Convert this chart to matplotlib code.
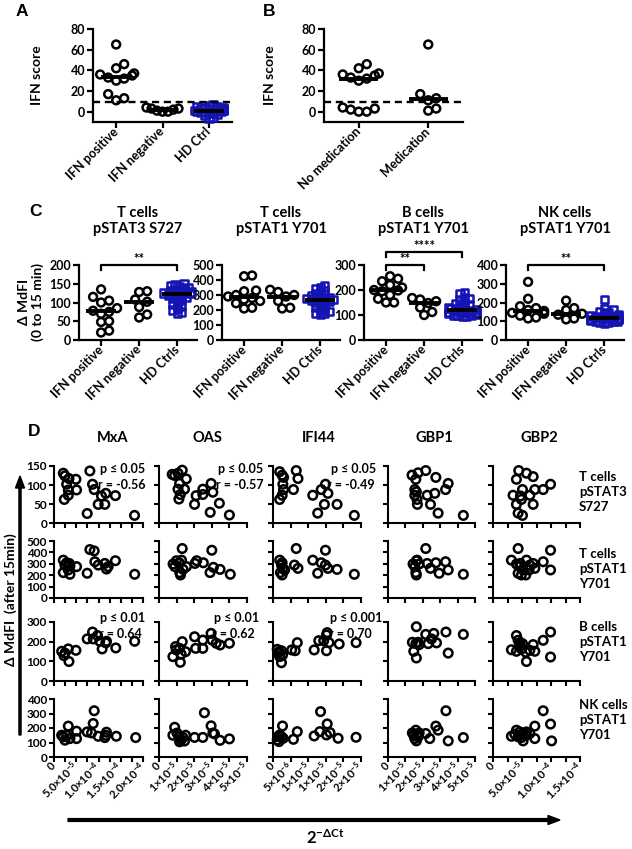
import numpy as np
import matplotlib
matplotlib.use("Agg")
import matplotlib.pyplot as plt

plt.rcParams['font.family'] = ['Lato', 'DejaVu Sans']
plt.rcParams['font.weight'] = 'bold'
plt.rcParams['axes.labelweight'] = 'bold'
plt.rcParams['mathtext.fontset'] = 'custom'
plt.rcParams['mathtext.rm'] = 'Lato:bold'
plt.rcParams['mathtext.it'] = 'Lato:bold'
plt.rcParams['mathtext.bf'] = 'Lato:bold'
plt.rcParams['mathtext.sf'] = 'Lato:bold'

# ---------------- data ----------------
# Panel A
a_categories = ["IFN positive", "IFN negative", "HD Ctrl"]
a_ifn_positive = [65, 46, 42, 37, 36, 35, 33, 32, 30, 17, 13, 11]
a_ifn_negative = [4, 3, 3, 2, 1, 0, 0]
a_hd_ctrl = [7, 6, 5, 5, 4, 4, 3, 3, 3, 2, 2, 2, 1, 1, 1, 1, 0, 0, 0, -1, -1, -2, -3, -4, -5, -6]
ifn_threshold = 9.5
# Panel B
b_categories = ["No medication", "Medication"]
b_no_med = [46, 42, 37, 36, 35, 33, 32, 30, 4, 3, 2, 0, 0]
b_med = [65, 17, 13, 11, 3, 1]

# Panel C
c_titles = ["T cells\npSTAT3 S727", "T cells\npSTAT1 Y701", "B cells\npSTAT1 Y701", "NK cells\npSTAT1 Y701"]
c_groups = ["IFN positive", "IFN negative", "HD Ctrls"]
c_t3_pos = [135, 115, 105, 100, 85, 78, 75, 70, 50, 48, 25, 20]
c_t3_neg = [130, 128, 108, 102, 88, 68, 60]
c_t3_hd = [150, 148, 145, 142, 140, 138, 135, 132, 130, 128, 127, 125, 125, 123, 120, 118,
           115, 112, 110, 105, 100, 95, 90, 85, 80, 75, 72]
c_t1_pos = [430, 425, 330, 325, 300, 290, 280, 270, 260, 245, 215, 210]
c_t1_neg = [335, 320, 300, 290, 260, 215, 210]
c_t1_hd = [360, 350, 340, 330, 320, 310, 300, 295, 290, 285, 280, 275, 270, 268, 265, 260,
           255, 250, 240, 230, 220, 210, 200, 190, 180, 175, 170]
c_b1_pos = [255, 245, 235, 220, 210, 200, 198, 195, 180, 165, 150, 150]
c_b1_neg = [168, 162, 155, 148, 130, 112, 100]
c_b1_hd = [190, 185, 170, 165, 160, 150, 145, 140, 135, 130, 128, 125, 122, 120, 118, 115,
           112, 110, 108, 105, 102, 100, 98, 95, 95, 100, 110]
c_nk_pos = [310, 220, 180, 170, 160, 155, 150, 145, 140, 130, 120, 115]
c_nk_neg = [210, 170, 160, 140, 135, 110, 115]
c_nk_hd = [215, 165, 160, 150, 145, 140, 135, 130, 128, 125, 122, 120, 118, 117, 115, 112,
           110, 108, 105, 102, 100, 98, 95, 92, 90]
c_yticks = [[0, 50, 100, 150, 200], [0, 100, 200, 300, 400, 500], [0, 100, 200, 300], [0, 100, 200, 300, 400]]

# Panel D  (x values in units of 1e-5)
d_genes = ["MxA", "OAS", "IFI44", "GBP1", "GBP2"]
d_rows = ["T cells\npSTAT3\nS727", "T cells\npSTAT1\nY701", "B cells\npSTAT1\nY701", "NK cells\npSTAT1\nY701"]
d_yticks = [[0, 50, 100, 150], [0, 100, 200, 300, 400, 500], [0, 100, 200, 300], [0, 100, 200, 300, 400]]

mxa_r1_x = [2.09, 2.46, 3.36, 4.93, 2.84, 3.21, 5.07, 3.21, 2.31, 8.06, 8.66, 9.03, 7.46, 9.93, 10.67, 11.64, 11.42, 13.8, 18.1]
mxa_r1_y = [131, 124, 117, 115, 102, 87, 87, 73, 62, 137, 102, 88, 25, 49, 71, 78, 49, 72, 20]
mxa_r2_x = [2.09, 2.84, 3.43, 2.46, 3.58, 5.07, 2.09, 3.58, 3.21, 7.46, 8.06, 9.03, 9.18, 9.93, 11.42, 11.79, 12.16, 13.8, 18.13]
mxa_r2_y = [332, 309, 303, 289, 280, 275, 223, 208, 246, 217, 425, 413, 318, 289, 303, 254, 275, 327, 208]
mxa_r3_x = [1.72, 2.46, 3.21, 2.24, 3.36, 4.93, 7.46, 8.66, 8.81, 9.78, 10.30, 11.79, 11.64, 10.82, 13.88, 18.13]
mxa_r3_y = [151, 142, 163, 129, 99, 156, 214, 249, 214, 231, 202, 202, 194, 163, 168, 202]
mxa_r4_x = [1.72, 2.46, 2.09, 3.21, 2.84, 3.58, 5.07, 5.07, 7.46, 8.43, 8.81, 9.03, 9.93, 11.42, 11.79, 11.64, 14.0, 18.36]
mxa_r4_y = [150, 116, 139, 213, 150, 127, 178, 127, 173, 166, 231, 319, 143, 134, 171, 150, 143, 134]

oas_r1_x = [0.75, 0.89, 1.08, 1.32, 1.55, 1.17, 1.08, 1.45, 1.21, 1.13, 2.02, 2.11, 2.49, 2.49, 2.96, 3.06, 2.91, 3.43, 4.0]
oas_r1_y = [128, 125, 131, 139, 116, 104, 89, 89, 75, 63, 49, 72, 89, 75, 104, 81, 28, 52, 21]
oas_r2_x = [0.80, 0.99, 1.15, 1.28, 0.90, 1.18, 1.22, 1.37, 1.56, 1.32, 2.04, 2.14, 2.52, 3.0, 2.90, 3.09, 3.47, 4.05]
oas_r2_y = [298, 327, 309, 332, 275, 223, 202, 251, 275, 434, 303, 327, 309, 419, 223, 269, 251, 208]
oas_r3_x = [0.79, 0.98, 0.94, 1.17, 1.32, 1.26, 1.21, 1.51, 2.02, 2.08, 2.49, 2.49, 2.96, 3.02, 3.47, 4.0, 3.25]
oas_r3_y = [124, 158, 175, 166, 200, 136, 95, 149, 225, 166, 166, 208, 242, 208, 183, 192, 192]
oas_r4_x = [0.89, 0.79, 1.02, 1.13, 1.26, 1.17, 1.36, 1.51, 1.45, 2.02, 2.49, 2.58, 2.96, 3.06, 3.15, 3.47, 4.0]
oas_r4_y = [205, 150, 165, 140, 118, 105, 135, 150, 110, 135, 135, 305, 215, 165, 160, 115, 125]

ifi_r1_x = [0.19, 0.26, 0.30, 0.28, 0.30, 0.26, 0.19, 0.66, 0.71, 0.58, 1.13, 1.37, 1.49, 1.56, 1.46, 1.27, 1.82, 2.31]
ifi_r1_y = [135, 126, 120, 102, 88, 73, 62, 138, 117, 88, 73, 88, 102, 78, 49, 26, 49, 20]
ifi_r2_x = [0.19, 0.26, 0.24, 0.28, 0.21, 0.26, 0.33, 0.61, 0.71, 0.66, 1.13, 1.37, 1.49, 1.56, 1.27, 1.49, 1.82, 2.31]
ifi_r2_y = [332, 309, 289, 260, 223, 202, 246, 289, 260, 434, 332, 309, 289, 260, 217, 419, 251, 208]
ifi_r3_x = [0.12, 0.17, 0.24, 0.14, 0.19, 0.27, 0.24, 0.53, 0.63, 0.69, 1.17, 1.30, 1.44, 1.52, 1.54, 1.59, 1.52, 1.88, 2.36]
ifi_r3_y = [161, 149, 154, 141, 124, 132, 93, 158, 154, 195, 158, 205, 205, 234, 246, 195, 154, 188, 195]
ifi_r4_x = [0.12, 0.19, 0.27, 0.17, 0.24, 0.29, 0.58, 0.69, 1.17, 1.33, 1.35, 1.52, 1.54, 1.62, 1.85, 2.36, 0.14]
ifi_r4_y = [117, 152, 214, 106, 140, 129, 122, 175, 145, 175, 313, 152, 228, 168, 129, 136, 140]

gbp1_r1_x = [1.38, 1.73, 2.17, 1.60, 2.75, 3.46, 3.31, 1.54, 1.63, 1.54, 1.67, 1.69, 2.25, 2.69, 2.44, 2.88, 4.33]
gbp1_r1_y = [126, 132, 138, 115, 120, 104, 88, 88, 82, 73, 62, 49, 73, 78, 49, 26, 20]
gbp1_r2_x = [1.44, 1.63, 1.54, 1.67, 1.60, 1.63, 2.17, 2.25, 2.44, 2.75, 2.94, 3.31, 3.46, 4.33, 1.79]
gbp1_r2_y = [298, 327, 275, 332, 223, 202, 434, 303, 260, 309, 217, 318, 246, 208, 298]
gbp1_r3_x = [1.63, 2.17, 2.63, 3.33, 4.33, 1.40, 1.60, 1.79, 1.48, 1.63, 2.31, 2.79, 2.50, 3.46, 1.73]
gbp1_r3_y = [276, 237, 242, 249, 237, 197, 190, 185, 151, 117, 190, 194, 214, 142, 197]
gbp1_r4_x = [1.40, 1.60, 1.67, 1.54, 1.63, 1.73, 2.17, 2.40, 2.75, 2.88, 3.33, 3.46, 4.33, 1.79, 1.48]
gbp1_r4_y = [166, 185, 150, 127, 111, 139, 162, 127, 213, 185, 319, 111, 134, 166, 150]

gbp2_r1_x = [4.44, 5.77, 6.92, 4.04, 9.92, 8.65, 7.21, 5.08, 3.46, 4.73, 6.35, 4.90, 6.92, 4.04, 4.33, 5.08]
gbp2_r1_y = [138, 131, 122, 115, 102, 88, 88, 88, 73, 71, 73, 62, 49, 49, 26, 20]
gbp2_r2_x = [3.17, 4.33, 4.04, 4.62, 5.19, 4.33, 4.90, 5.65, 5.77, 6.35, 6.92, 7.21, 8.65, 9.92, 9.92, 4.73, 6.23]
gbp2_r2_y = [332, 434, 298, 275, 246, 217, 202, 202, 332, 289, 303, 260, 318, 419, 246, 303, 246]
gbp2_r3_x = [4.04, 4.33, 4.62, 5.08, 3.17, 4.04, 4.90, 5.65, 5.77, 6.35, 6.92, 7.21, 8.65, 9.92, 9.92, 4.62]
gbp2_r3_y = [231, 207, 194, 190, 159, 151, 163, 146, 99, 156, 185, 151, 207, 249, 122, 177]
gbp2_r4_x = [3.17, 4.04, 4.62, 5.08, 5.65, 6.35, 7.21, 5.19, 7.21, 8.65, 9.92, 10.1, 4.33, 5.77, 3.75, 4.90]
gbp2_r4_y = [143, 185, 173, 162, 150, 162, 213, 111, 127, 319, 227, 111, 139, 173, 157, 134]

d_stats = {(0, 0): ("p \u2264 0.05", "r = -0.56"), (0, 1): ("p \u2264 0.05", "r = -0.57"),
           (0, 2): ("p \u2264 0.05", "r = -0.49"), (2, 0): ("p \u2264 0.01", "r = 0.64"),
           (2, 1): ("p \u2264 0.01", "r = 0.62"), (2, 2): ("p \u2264 0.001", "r = 0.70")}

d_xmax = [20, 5, 2.5, 5, 15]
d_xticklabels = [
    ["0", "", "5.0\u00d710$^{-5}$", "", "1.0\u00d710$^{-4}$", "", "1.5\u00d710$^{-4}$", "", "2.0\u00d710$^{-4}$"],
    ["0", "1\u00d710$^{-5}$", "2\u00d710$^{-5}$", "3\u00d710$^{-5}$", "4\u00d710$^{-5}$", "5\u00d710$^{-5}$"],
    ["0", "5\u00d710$^{-6}$", "1\u00d710$^{-5}$", "1\u00d710$^{-5}$", "2\u00d710$^{-5}$", "2\u00d710$^{-5}$"],
    ["0", "1\u00d710$^{-5}$", "2\u00d710$^{-5}$", "3\u00d710$^{-5}$", "4\u00d710$^{-5}$", "5\u00d710$^{-5}$"],
    ["0", "", "5.0\u00d710$^{-5}$", "", "1.0\u00d710$^{-4}$", "", "1.5\u00d710$^{-4}$"],
]
d_xstep = [2.5, 1.0, 0.5, 1.0, 2.5]

# ---------------- figure ----------------
W, H = 632.0, 849.0
fig = plt.figure(figsize=(W / 100, H / 100), dpi=100)
BLUE = "#1414b4"
MEW = 1.8


def add_ax(l, t, r, b):
    return fig.add_axes([l / W, 1 - b / H, (r - l) / W, (b - t) / H])


def ftext(x, y, s, **kw):
    return fig.text(x / W, 1 - y / H, s, **kw)


def style(ax, lw=1.6, tl=4, ls=8):
    for s in ("top", "right"):
        ax.spines[s].set_visible(False)
    for s in ("left", "bottom"):
        ax.spines[s].set_linewidth(lw)
    ax.tick_params(direction="out", length=tl, width=lw, labelsize=ls, pad=1.5)


def swarm(vals, yscale, xscale, d, maxhalf):
    vals = np.asarray(vals, float)
    order = np.argsort(vals)
    placed = []
    offs = np.zeros(len(vals))
    cands = [0.0]
    for k in range(1, 60):
        cands += [k * d * 0.5, -k * d * 0.5]
    for i in order:
        y = vals[i] * yscale
        chosen = cands[-1]
        for c in cands:
            if all((c - px) ** 2 + (y - py) ** 2 >= d * d for px, py in placed):
                chosen = c
                break
        chosen = max(-maxhalf, min(maxhalf, chosen))
        placed.append((chosen, y))
        offs[i] = chosen / xscale
    return offs


def column(ax, xc, vals, yscale, xscale, marker="o", color="black", s=32, d=8.0,
           maxhalf=20, medhalf=0.33, lwmed=2.8):
    offs = swarm(vals, yscale, xscale, d, maxhalf)
    ax.scatter(xc + offs, vals, s=s, marker=marker, facecolors="none", edgecolors=color,
               linewidths=MEW, zorder=3, clip_on=False)
    med = np.median(vals)
    ax.plot([xc - medhalf, xc + medhalf], [med, med], color="black", lw=lwmed,
            zorder=4, solid_capstyle="butt", clip_on=False)


# ----- Panel A -----
axA = add_ax(93, 29, 232, 122)
axA.set_xlim(0.5, 3.5)
axA.set_ylim(-10, 80)
ysA = 93 / 90.0
xsA = 139 / 3.0
column(axA, 1, a_ifn_positive, ysA, xsA, d=8, maxhalf=18)
column(axA, 2, a_ifn_negative, ysA, xsA, d=5.5, maxhalf=16)
column(axA, 3, a_hd_ctrl, ysA, xsA, marker="s", color=BLUE, s=28, d=4.0, maxhalf=14)
axA.axhline(ifn_threshold, color="black", lw=1.7, ls=(0, (3, 2)), zorder=5)
axA.set_yticks([0, 20, 40, 60, 80])
axA.set_xticks([1, 2, 3])
axA.set_xticklabels(a_categories, rotation=45, ha="right", va="center", rotation_mode="anchor")
style(axA, ls=9)
ftext(37, 75, "IFN score", rotation=90, ha="center", va="center", fontsize=10)
ftext(22, 11, "A", fontsize=12.5, ha="center", va="center", family="Liberation Sans")

# ----- Panel B -----
axB = add_ax(324, 29, 463, 122)
axB.set_xlim(0.5, 2.5)
axB.set_ylim(-10, 80)
xsB = 139 / 2.0
column(axB, 1, b_no_med, ysA, xsB, d=8, maxhalf=20, medhalf=0.28)
column(axB, 2, b_med, ysA, xsB, d=8, maxhalf=20, medhalf=0.28)
axB.axhline(ifn_threshold, color="black", lw=1.7, ls=(0, (3, 2)), zorder=5)
axB.set_yticks([0, 20, 40, 60, 80])
axB.set_xticks([1, 2])
axB.set_xticklabels(b_categories, rotation=45, ha="right", va="center", rotation_mode="anchor")
style(axB, ls=9)
ftext(270, 75, "IFN score", rotation=90, ha="center", va="center", fontsize=10)
ftext(269, 11, "B", fontsize=12.5, ha="center", va="center", family="Liberation Sans")

# ----- Panel C -----
c_lefts = [79, 222, 364, 506]
c_data = [(c_t3_pos, c_t3_neg, c_t3_hd), (c_t1_pos, c_t1_neg, c_t1_hd),
          (c_b1_pos, c_b1_neg, c_b1_hd), (c_nk_pos, c_nk_neg, c_nk_hd)]
axC = []
for k, l in enumerate(c_lefts):
    ax = add_ax(l, 265, l + 118, 340)
    ax.set_xlim(0.42, 3.52)
    ymax = c_yticks[k][-1]
    ax.set_ylim(0, ymax)
    ys = 75.0 / ymax
    xs = 118 / 3.1
    pos, neg, hd = c_data[k]
    column(ax, 1, pos, ys, xs, d=8, maxhalf=16, medhalf=0.4)
    column(ax, 2, neg, ys, xs, d=8, maxhalf=16, medhalf=0.4)
    column(ax, 3, hd, ys, xs, marker="s", color=BLUE, s=28, d=4.5, maxhalf=14, medhalf=0.4)
    ax.set_yticks(c_yticks[k])
    ax.set_xticks([1, 2, 3])
    ax.set_xticklabels(c_groups, rotation=45, ha="right", va="center", rotation_mode="anchor",
                       fontsize=8)
    style(ax, ls=9)
    ftext(l + 59, 221, c_titles[k], ha="center", va="center", fontsize=10.5, linespacing=1.25)
    axC.append(ax)


def bracket(ax, x1, x2, y, drop, label):
    ax.plot([x1, x1, x2, x2], [y - drop, y, y, y - drop], color="black", lw=1.6,
            clip_on=False, zorder=5)
    ax.text((x1 + x2) / 2, y, label, ha="center", va="bottom", fontsize=9.5)


bracket(axC[0], 1, 3, 200, 14, "**")
bracket(axC[2], 1, 2, 300, 20, "**")
bracket(axC[2], 1, 3, 352, 20, "****")
bracket(axC[3], 1, 3, 400, 27, "**")
ftext(31, 302, "\u0394 MdFI\n(0 to 15 min)", rotation=90, ha="center", va="center",
      fontsize=10, linespacing=1.05)
ftext(35, 212, "C", fontsize=12.5, ha="center", va="center", family="Liberation Sans")

# ----- Panel D -----
d_lefts = [54, 159, 273, 388, 493]
d_rights = [143, 247, 361, 475, 580]
d_tops = [466, 541, 622, 699]
d_bots = [523, 598, 681, 757]
d_cells = [
    [(mxa_r1_x, mxa_r1_y), (oas_r1_x, oas_r1_y), (ifi_r1_x, ifi_r1_y), (gbp1_r1_x, gbp1_r1_y), (gbp2_r1_x, gbp2_r1_y)],
    [(mxa_r2_x, mxa_r2_y), (oas_r2_x, oas_r2_y), (ifi_r2_x, ifi_r2_y), (gbp1_r2_x, gbp1_r2_y), (gbp2_r2_x, gbp2_r2_y)],
    [(mxa_r3_x, mxa_r3_y), (oas_r3_x, oas_r3_y), (ifi_r3_x, ifi_r3_y), (gbp1_r3_x, gbp1_r3_y), (gbp2_r3_x, gbp2_r3_y)],
    [(mxa_r4_x, mxa_r4_y), (oas_r4_x, oas_r4_y), (ifi_r4_x, ifi_r4_y), (gbp1_r4_x, gbp1_r4_y), (gbp2_r4_x, gbp2_r4_y)],
]
stat_right = [[145, 263, 376], None, [145, 259, 382]]
stat_right_r = [[145, 263, 375], None, [142, 255, 372]]
for r in range(4):
    for c in range(5):
        ax = add_ax(d_lefts[c], d_tops[r], d_rights[c], d_bots[r])
        xv, yv = d_cells[r][c]
        ax.scatter(np.array(xv) * 1e-5, yv, s=38, facecolors="none", edgecolors="black",
                   linewidths=MEW, zorder=3, clip_on=False)
        ax.set_xlim(0, d_xmax[c] * 1e-5)
        ax.set_ylim(0, d_yticks[r][-1])
        ax.set_yticks(d_yticks[r])
        ticks = np.arange(0, d_xmax[c] + 1e-9, d_xstep[c]) * 1e-5
        ax.set_xticks(ticks)
        style(ax, lw=1.5, tl=3.5, ls=8.5)
        if c > 0:
            ax.set_yticklabels([])
        if r == 3:
            ax.set_xticklabels(d_xticklabels[c], rotation=45, ha="right", va="center",
                               rotation_mode="anchor", fontsize=8)
        else:
            ax.set_xticklabels([])
        if (r, c) in d_stats:
            p, rr = d_stats[(r, c)]
            yp = 469 if r == 0 else 618
            ftext(stat_right[r][c], yp, p, ha="right", va="center", fontsize=9)
            ftext(stat_right_r[r][c], yp + 16, rr, ha="right", va="center", fontsize=9)

d_title_x = [113, 207, 319, 434, 539]
for c, g in enumerate(d_genes):
    ftext(d_title_x[c], 438, g, ha="center", va="center", fontsize=10.5)
d_row_y = [492, 569, 642, 720]
for r, lab in enumerate(d_rows):
    ftext(579, d_row_y[r], lab, ha="left", va="center", fontsize=9.5, linespacing=1.3)

ftext(34, 432, "D", fontsize=12.5, ha="center", va="center", family="Liberation Sans")
ftext(11, 600, "\u0394 MdFI  (after 15min)", rotation=90, ha="center", va="center", fontsize=10)
ftext(325, 838, r"2$^{-\Delta \mathrm{Ct}}$", ha="center", va="center", fontsize=12)

fig.patches.append(matplotlib.patches.FancyArrow(
    20 / W, 1 - 735 / H, 0, (735 - 476) / H, width=2.8 / H, head_width=9 / W, head_length=12 / H,
    length_includes_head=True, color="black", transform=fig.transFigure, figure=fig))
fig.patches.append(matplotlib.patches.FancyArrow(
    68 / W, 1 - 820 / H, (560 - 68) / W, 0, width=2.8 / H, head_width=9 / H, head_length=12 / W,
    length_includes_head=True, color="black", transform=fig.transFigure, figure=fig))

fig.savefig("out.png", dpi=100)
